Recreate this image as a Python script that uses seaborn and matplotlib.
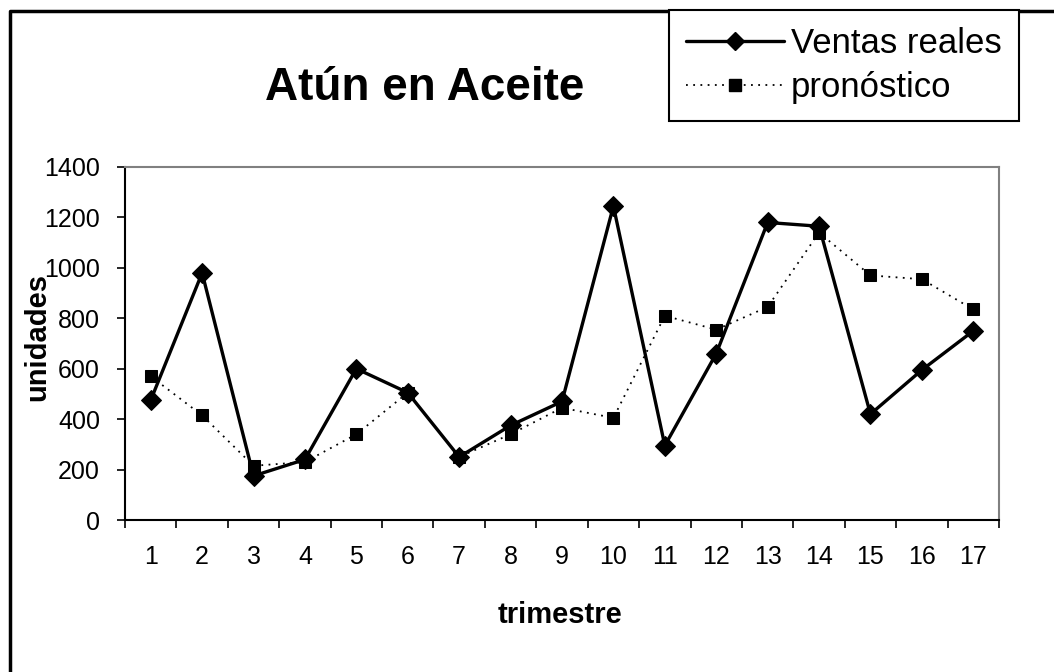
import pandas as pd
import matplotlib.pyplot as plt
import seaborn as sns
from matplotlib.lines import Line2D

# Datos
trimestre = list(range(1, 18))
ventas_reales = [475, 980, 175, 240, 600, 505, 250, 375, 470, 1245, 295, 660, 1180, 1165, 420, 595, 750]
pronostico = [570, 415, 215, 230, 340, 505, 250, 340, 445, 405, 810, 755, 845, 1140, 970, 955, 835]
y_ticks = [0, 200, 400, 600, 800, 1000, 1200, 1400]

df = pd.DataFrame({'trimestre': trimestre,
                   'Ventas reales': ventas_reales,
                   'pronóstico': pronostico})

sns.set_style('white')
plt.rcParams['font.family'] = ['Liberation Sans', 'DejaVu Sans']
plt.rcParams['text.color'] = 'black'
plt.rcParams['xtick.color'] = 'black'
plt.rcParams['ytick.color'] = 'black'

fig = plt.figure(figsize=(10.54, 6.72), dpi=100)
ax = fig.add_axes([125 / 1054, 1 - 520 / 672, (999 - 125) / 1054, (520 - 167) / 672])

sns.lineplot(data=df, x='trimestre', y='Ventas reales', ax=ax, color='black',
             linewidth=2.4, marker='D', markersize=10, markeredgecolor='black',
             label='Ventas reales', legend=False)
sns.lineplot(data=df, x='trimestre', y='pronóstico', ax=ax, color='black',
             linewidth=1.3, linestyle=(0, (1, 3)), marker='s', markersize=9,
             markeredgecolor='black', label='pronóstico', legend=False)

ax.set_xlim(0.5, 17.5)
ax.set_ylim(0, 1400)
ax.set_yticks(y_ticks)
ax.set_yticklabels([str(v) for v in y_ticks], fontsize=18)
ax.set_xticks([i + 0.5 for i in range(0, 18)])
ax.set_xticklabels([])
ax.set_xticks(trimestre, minor=True)
ax.set_xticklabels([str(t) for t in trimestre], minor=True, fontsize=18)
ax.tick_params(axis='x', which='major', direction='out', length=6, width=1.2, bottom=True)
ax.tick_params(axis='x', which='minor', length=0, pad=18, bottom=True)
ax.tick_params(axis='y', direction='out', length=6, width=1.2, left=True, pad=12)

for s in ['left', 'bottom']:
    ax.spines[s].set_color('black')
    ax.spines[s].set_linewidth(1.5)
for s in ['top', 'right']:
    ax.spines[s].set_color('#808080')
    ax.spines[s].set_linewidth(1.5)

ax.set_xlabel('')
ax.set_ylabel('')
fig.text(560 / 1054, 1 - 615 / 672, 'trimestre', fontsize=21, fontweight='bold',
         ha='center', va='center')
fig.text(37 / 1054, 1 - 337 / 672, 'unidades', fontsize=21, fontweight='bold',
         ha='center', va='center', rotation=90)

fig.text(425 / 1054, 1 - 88 / 672, 'Atún en Aceite', fontsize=33, fontweight='bold',
         ha='center', va='center')

# Leyenda
handles = [Line2D([0], [0], color='black', linewidth=2.4, marker='D', markersize=9),
           Line2D([0], [0], color='black', linewidth=1.3, linestyle=(0, (1, 3)),
                  marker='s', markersize=8)]
leg = fig.legend(handles, ['Ventas reales', 'pronóstico'], loc='upper left',
                 bbox_to_anchor=(669 / 1054, 1 - 10 / 672), fontsize=25,
                 frameon=True, fancybox=False, edgecolor='black', framealpha=1,
                 handlelength=2.8, handletextpad=0.2, borderpad=0.5,
                 labelspacing=0.3, borderaxespad=0)
leg.get_frame().set_linewidth(1.5)

# Borde exterior
fig.add_artist(Line2D([10 / 1054, 10 / 1054, 1], [0, 1 - 11 / 672, 1 - 11 / 672],
                      transform=fig.transFigure, color='black', linewidth=2.5))

fig.savefig('out.png', dpi=100)
